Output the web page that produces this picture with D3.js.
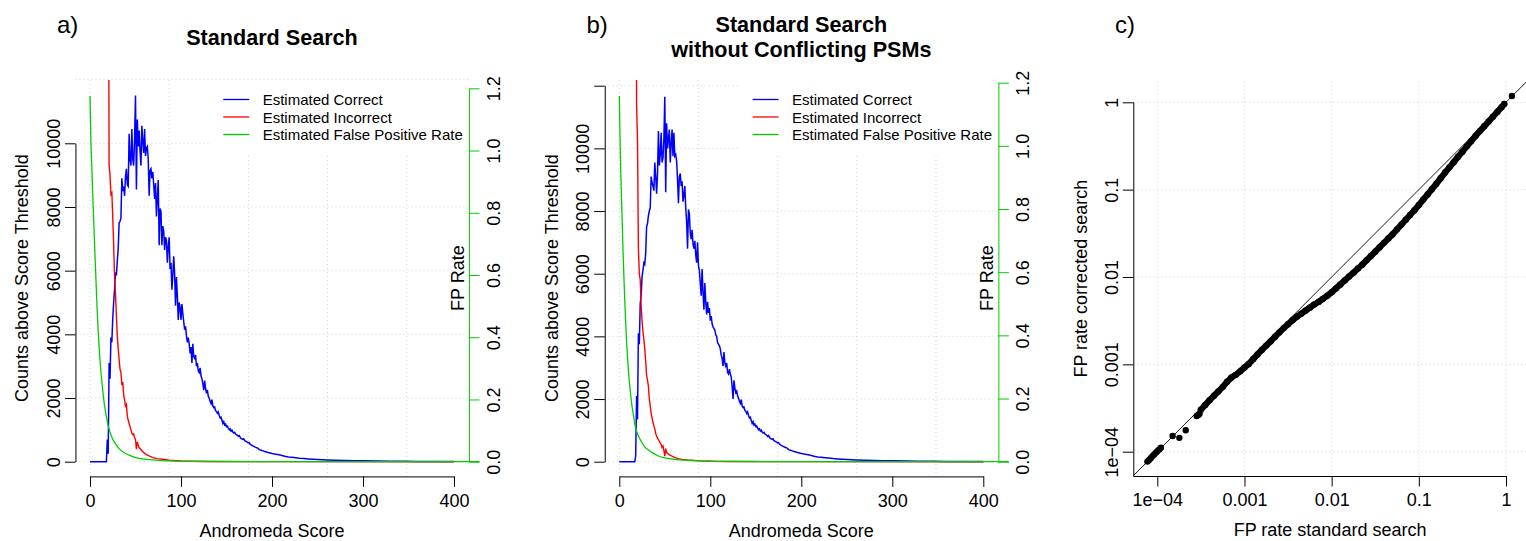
<!DOCTYPE html>
<html>
<head>
<meta charset="utf-8">
<script src="https://cdnjs.cloudflare.com/ajax/libs/d3/7.8.5/d3.min.js"></script>
<style>
  body { margin: 0; background: #fff; }
</style>
</head>
<body>
<div id="chart"></div>
<script>
/* global d3 */

// Panel a / b : [score, count]
const blueA = [[0,0],[17,0],[18,0],[19,700],[20,250],[21,3100],[22,2600],[23,3900],[24,3750],[25,4500],[26,5000],[27,5400],[28,5950],[29,5850],[30,6300],[31,6700],[32,7500],[33,7550],[34,7650],[35,8900],[36,8500],[37,8650],[38,8350],[39,8950],[40,9200],[41,8700],[42,8650],[43,10300],[44,9500],[45,9300],[46,10450],[47,9500],[48,9300],[49,10150],[50,11500],[51,8550],[52,10750],[53,9900],[54,10400],[55,9750],[56,9300],[57,10550],[58,10050],[59,9700],[60,10450],[61,9600],[62,9850],[63,9900],[64,9500],[65,8350],[66,9150],[67,9200],[68,8900],[69,9100],[70,8700],[71,8250],[72,8750],[73,7700],[74,8300],[75,8850],[76,6800],[77,7950],[78,7850],[79,6800],[80,7400],[81,7250],[82,6650],[83,7050],[84,6950],[85,6250],[86,6750],[87,7050],[88,6050],[89,6250],[90,5400],[91,5850],[92,6450],[93,5900],[94,4900],[95,5800],[96,5200],[97,4450],[98,5000],[99,4850],[100,4450],[101,4950],[102,4650],[103,4400],[104,4150],[105,4250],[106,3950],[107,3750],[108,3900],[109,3700],[110,3400],[111,3600],[112,3100],[113,3700],[114,3300],[115,3250],[116,3350],[117,3000],[118,3100],[119,2850],[120,2800],[121,2950],[122,2700],[123,2600],[124,2450],[125,2250],[126,2550],[127,2300],[128,2150],[129,2250],[130,2050],[131,2000],[132,1900],[133,1830],[134,1950],[135,1750],[136,1700],[137,1720],[138,1600],[139,1580],[140,1520],[141,1560],[142,1450],[143,1380],[144,1400],[145,1300],[146,1200],[147,1260],[148,1150],[149,1180],[150,1100],[151,1120],[152,1050],[153,1000],[154,1030],[155,960],[156,990],[157,930],[158,900],[159,920],[160,870],[162,830],[163,800],[164,820],[165,770],[166,730],[168,700],[169,720],[170,660],[172,630],[174,590],[175,600],[176,550],[178,510],[180,480],[182,450],[184,430],[186,380],[188,360],[190,340],[192,320],[195,295],[198,275],[200,260],[203,240],[206,225],[210,200],[214,170],[218,150],[222,140],[226,125],[230,112],[235,100],[240,88],[245,78],[250,68],[260,54],[270,45],[280,38],[290,32],[300,27],[315,20],[330,15],[345,11],[360,8],[380,5],[400,3]]

const redA = [[20,20000],[21,9300],[22,9000],[23,8400],[24,8450],[25,7700],[26,6800],[27,5800],[28,5300],[29,4600],[30,3950],[31,3550],[32,3200],[33,2900],[34,2800],[35,2400],[36,2500],[37,2100],[38,1950],[39,1750],[40,1800],[41,1430],[42,1300],[43,1200],[44,1100],[45,1000],[46,900],[47,850],[48,870],[49,750],[50,700],[51,390],[52,620],[53,520],[54,440],[55,420],[56,380],[57,340],[58,320],[60,260],[62,220],[65,180],[69,130],[74,95],[80,75],[87,45],[95,30],[100,20],[110,12],[130,6],[160,3],[200,1],[400,0]]

// [score, FP rate]
const greenA = [[0,1.175],[1,1.03],[2,0.945],[3,0.86],[5,0.70],[7,0.55],[8,0.48],[10,0.37],[12,0.29],[14,0.23],[16,0.18],[18,0.145],[20,0.115],[22,0.095],[25,0.072],[29,0.054],[32,0.042],[38,0.028],[43,0.021],[50,0.013],[60,0.008],[75,0.0045],[100,0.002],[150,0.0006],[200,0.0002],[428,0]]

const blueB = [[0,0],[17,0],[18,180],[19,2100],[20,1350],[21,4100],[22,3750],[23,5050],[24,5300],[25,5900],[26,6100],[27,6350],[28,6300],[29,6650],[30,7500],[31,7600],[32,7850],[33,8000],[34,8100],[35,9100],[36,8900],[37,8800],[38,8650],[39,9550],[40,9100],[41,8550],[42,9200],[43,10550],[44,9450],[45,9800],[46,10500],[47,9550],[48,9700],[49,10300],[50,11650],[51,8600],[52,10800],[53,10000],[54,10300],[55,10600],[56,9550],[57,10150],[58,10600],[59,9750],[60,10500],[61,9750],[62,9800],[63,9600],[64,9000],[65,8250],[66,9100],[67,9200],[68,8800],[69,8950],[70,8300],[71,8500],[72,8800],[73,8100],[74,7650],[75,6800],[76,8050],[77,7900],[78,7300],[79,7100],[80,7400],[81,6950],[82,6800],[83,7050],[84,6600],[85,6350],[86,7000],[87,6250],[88,6100],[89,5700],[90,5300],[91,6150],[92,5400],[93,4850],[94,5700],[95,5100],[96,4700],[97,5100],[98,4750],[99,4900],[100,4500],[101,4650],[102,4400],[103,4300],[104,4250],[105,4200],[106,4050],[107,4000],[108,3800],[109,3750],[110,3700],[111,3600],[112,3400],[113,3300],[114,3050],[115,3500],[116,3150],[117,3050],[118,3150],[119,2850],[120,2800],[121,2950],[122,2800],[123,2700],[124,2400],[125,2000],[126,2600],[127,2350],[128,2200],[129,2250],[130,2100],[131,2030],[132,1930],[133,1860],[134,1980],[135,1780],[136,1730],[137,1750],[138,1630],[139,1610],[140,1540],[141,1590],[142,1470],[143,1400],[144,1420],[145,1320],[146,1220],[147,1280],[148,1170],[149,1200],[150,1120],[151,1140],[152,1070],[153,1020],[154,1050],[155,975],[156,1010],[157,945],[158,915],[159,935],[160,885],[162,845],[163,810],[164,835],[165,780],[166,740],[168,710],[169,730],[170,670],[172,640],[174,600],[175,610],[176,560],[178,520],[180,490],[182,460],[184,440],[186,385],[188,365],[190,345],[192,325],[195,300],[198,280],[200,265],[203,245],[206,230],[210,205],[214,175],[218,150],[222,140],[226,128],[230,115],[235,100],[240,90],[245,80],[250,70],[260,56],[270,46],[280,39],[290,32],[300,27],[315,20],[330,15],[345,11],[360,8],[380,5],[400,3]]

const redB = [[18,20000],[19,11400],[20,10250],[21,6800],[22,6000],[23,5800],[24,5000],[25,4500],[26,4150],[27,3900],[28,3600],[29,3200],[30,2750],[31,2600],[32,2400],[33,2000],[34,1780],[35,1550],[36,1400],[37,1250],[38,1150],[39,1050],[40,900],[41,820],[42,750],[43,700],[44,650],[45,600],[46,550],[47,450],[48,500],[49,350],[50,180],[51,420],[52,300],[54,240],[56,200],[58,180],[61,130],[65,100],[69,75],[75,55],[80,45],[88,25],[100,12],[120,6],[160,2],[200,1],[400,0]]

const greenB = [[0,1.158],[1,0.99],[2,0.88],[3,0.78],[4,0.68],[5,0.59],[6,0.51],[8,0.38],[10,0.29],[12,0.225],[14,0.175],[16,0.14],[17,0.12],[19,0.097],[21,0.081],[25,0.060],[28,0.047],[32,0.037],[37,0.027],[43,0.018],[50,0.012],[61,0.0076],[76,0.0045],[100,0.002],[150,0.0006],[200,0.0002],[428,0]]

const scoreTicks = [0, 100, 200, 300, 400]
const scoreGrid = [0, 87, 174, 261, 348]
const countTicksA = [0, 2000, 4000, 6000, 8000, 10000]
const countTicksB = [0, 2000, 4000, 6000, 8000, 10000, 12000]
const countGrid = [0, 2000, 4000, 6000, 8000, 10000, 12000]
const fpTicks = [0, 0.2, 0.4, 0.6, 0.8, 1.0, 1.2]
const legendLabels = ['Estimated Correct', 'Estimated Incorrect', 'Estimated False Positive Rate']

// Panel c : FP rate standard search vs corrected search
const fpStdSparse = [7.7e-5, 8.0e-5, 8.4e-5, 8.8e-5, 9.2e-5, 9.6e-5, 1.0e-4, 1.05e-4, 1.1e-4, 1.5e-4, 1.79e-4, 2.12e-4, 2.83e-4, 2.95e-4, 3.05e-4, 1.17]
const fpCorrSparse = [7.7e-5, 8.0e-5, 8.4e-5, 8.9e-5, 9.3e-5, 9.7e-5, 1.01e-4, 1.06e-4, 1.11e-4, 1.51e-4, 1.44e-4, 1.76e-4, 2.56e-4, 2.63e-4, 2.72e-4, 1.18]
const fpStdBand = [3.16e-4, 3.55e-4, 3.98e-4, 4.47e-4, 5.01e-4, 5.62e-4, 6.31e-4, 7.08e-4, 7.94e-4, 8.91e-4,
  1.0e-3, 1.12e-3, 1.26e-3, 1.41e-3, 1.58e-3, 1.78e-3, 2.0e-3, 2.24e-3, 2.51e-3, 2.82e-3, 3.16e-3, 3.55e-3, 3.98e-3, 4.47e-3, 5.01e-3, 5.62e-3, 6.31e-3, 7.08e-3, 7.94e-3, 8.91e-3,
  0.01, 0.0112, 0.0126, 0.0141, 0.0158, 0.0178, 0.02, 0.0224, 0.0251, 0.0282, 0.0316, 0.0355, 0.0398, 0.0447, 0.0501, 0.0562, 0.0631, 0.0708, 0.0794, 0.0891,
  0.1, 0.112, 0.126, 0.141, 0.158, 0.178, 0.2, 0.224, 0.251, 0.282, 0.316, 0.355, 0.398, 0.447, 0.501, 0.562, 0.631, 0.708, 0.794, 0.891, 0.955]
const fpCorrBand = [3.02e-4, 3.43e-4, 3.89e-4, 4.37e-4, 4.90e-4, 5.49e-4, 6.31e-4, 7.08e-4, 7.58e-4, 8.32e-4,
  9.23e-4, 1.01e-3, 1.15e-3, 1.30e-3, 1.46e-3, 1.64e-3, 1.84e-3, 2.07e-3, 2.32e-3, 2.60e-3, 2.88e-3, 3.20e-3, 3.51e-3, 3.80e-3, 4.12e-3, 4.46e-3, 4.84e-3, 5.19e-3, 5.62e-3, 6.10e-3,
  6.68e-3, 7.40e-3, 8.23e-3, 9.11e-3, 0.0101, 0.0112, 0.0125, 0.0138, 0.0155, 0.0174, 0.0195, 0.0219, 0.0246, 0.0276, 0.0309, 0.0351, 0.0398, 0.0452, 0.0513, 0.0582,
  0.0668, 0.0766, 0.0882, 0.101, 0.116, 0.135, 0.157, 0.180, 0.206, 0.238, 0.272, 0.313, 0.359, 0.412, 0.468, 0.531, 0.602, 0.684, 0.776, 0.881, 0.955]
const logTicks = [1e-4, 1e-3, 1e-2, 0.1, 1]
const logLabels = ['1e\u221204', '0.001', '0.01', '0.1', '1']

// Our canvas
const width = 1526,
  height = 541,
  font = "'Liberation Sans', Arial, Helvetica, sans-serif",
  green = '#00cc00',
  gridColor = '#d3d3d3'

const svg = d3.select('#chart')
  .append('svg')
  .attr('width', width)
  .attr('height', height)
  .style('font-family', font)

const styleAxis = (g, color) => {
  g.attr('font-size', 18).attr('font-family', font).attr('color', color || '#000')
  g.selectAll('.tick text').attr('fill', '#000')
}

const rotateLabels = (g, base) => {
  g.selectAll('.tick text')
    .attr('transform', 'rotate(-90)')
    .attr('x', 0)
    .attr('y', base)
    .attr('dy', null)
    .attr('text-anchor', 'middle')
}

// histogram panels (a, b)
let drawHist = (p) => {
  const x = d3.scaleLinear().domain([0, 400]).range([p.x0, p.x0 + 364])
  const yCount = d3.scaleLinear().domain([0, p.countTicks[p.countTicks.length - 1]]).range([461.7, p.countTopY])
  const yFp = d3.scaleLinear().domain([0, 1.2]).range([461.7, p.fpTopY])
  const left = x(-16), right = x(416), top = 80, bottom = 476.4

  const g = svg.append('g')

  svg.append('clipPath').attr('id', p.id + 'clip')
    .append('rect')
    .attr('x', left).attr('y', top)
    .attr('width', right - left + 20).attr('height', bottom - top)

  // grid
  g.selectAll('.vgrid').data(scoreGrid).enter().append('line')
    .attr('x1', d => x(d)).attr('x2', d => x(d))
    .attr('y1', top).attr('y2', bottom)
    .attr('stroke', gridColor).attr('stroke-dasharray', '1,3')
  g.selectAll('.hgrid').data(countGrid).enter().append('line')
    .attr('x1', left).attr('x2', right)
    .attr('y1', d => yCount(d)).attr('y2', d => yCount(d))
    .attr('stroke', gridColor).attr('stroke-dasharray', '1,3')

  // curves
  const countLine = d3.line().x(d => x(d[0])).y(d => yCount(d[1]))
  const fpLine = d3.line().x(d => x(d[0])).y(d => yFp(d[1])).curve(d3.curveMonotoneX)
  const curves = g.append('g').attr('clip-path', 'url(#' + p.id + 'clip)')
  curves.append('path').datum(p.blue).attr('d', countLine)
    .attr('fill', 'none').attr('stroke', '#0000ff').attr('stroke-width', 1.5)
  curves.append('path').datum(p.red).attr('d', countLine)
    .attr('fill', 'none').attr('stroke', '#ff0000').attr('stroke-width', 1.4)
  curves.append('path').datum(p.green).attr('d', fpLine)
    .attr('fill', 'none').attr('stroke', green).attr('stroke-width', 1.3)

  // axes
  const xAxis = g.append('g')
    .attr('transform', `translate(0,${bottom})`)
    .call(d3.axisBottom(x).tickValues(scoreTicks).tickSize(10.5).tickSizeOuter(0))
  styleAxis(xAxis)
  xAxis.selectAll('.tick text').attr('y', 30.3).attr('dy', null)

  const yAxis = g.append('g')
    .attr('transform', `translate(${left},0)`)
    .call(d3.axisLeft(yCount).tickValues(p.countTicks).tickSize(10.5).tickSizeOuter(0)
      .tickFormat(d => d > 10000 ? '' : d3.format('d')(d)))
  styleAxis(yAxis)
  rotateLabels(yAxis, -15.5)

  const fpAxis = g.append('g')
    .attr('transform', `translate(${right + 0.5},0)`)
    .call(d3.axisRight(yFp).tickValues(fpTicks).tickSize(10.5).tickSizeOuter(0).tickFormat(d3.format('.1f')))
  styleAxis(fpAxis, green)
  rotateLabels(fpAxis, 30.7)

  // labels
  g.append('text')
    .attr('x', (left + right) / 2).attr('y', 536.7)
    .attr('text-anchor', 'middle').attr('font-size', 18)
    .text('Andromeda Score')
  g.append('text')
    .attr('transform', `translate(${left - 47},${(top + bottom) / 2}) rotate(-90)`)
    .attr('text-anchor', 'middle').attr('font-size', 18)
    .text('Counts above Score Threshold')
  g.append('text')
    .attr('transform', `translate(${right - 4.5},${(top + bottom) / 2}) rotate(-90)`)
    .attr('text-anchor', 'middle').attr('font-size', 18)
    .text('FP Rate')
  p.title.forEach((t, i) => {
    g.append('text')
      .attr('x', (left + right) / 2).attr('y', p.titleY + i * 25)
      .attr('text-anchor', 'middle').attr('font-size', 21.6).attr('font-weight', 'bold')
      .text(t)
  })
  g.append('text')
    .attr('x', p.letterX).attr('y', 33.3)
    .attr('font-size', 24)
    .text(p.letter)

  // legend
  const lx = right - 258
  const legend = g.append('g').attr('transform', `translate(${lx},${top})`)
  legend.append('rect').attr('width', 258).attr('height', 74).attr('fill', '#fff')
  const colors = ['#0000ff', '#ff0000', green]
  legendLabels.forEach((t, i) => {
    const by = 25 + i * 17.5
    legend.append('line')
      .attr('x1', 12.7).attr('x2', 38.7)
      .attr('y1', by - 5.5).attr('y2', by - 5.5)
      .attr('stroke', colors[i]).attr('stroke-width', 1.3)
    legend.append('text')
      .attr('x', 52.1).attr('y', by)
      .attr('font-size', 15)
      .text(t)
  })
}

drawHist({
  id: 'a', x0: 90, countTicks: countTicksA, countTopY: 143.3, fpTopY: 88.3,
  blue: blueA, red: redA, green: greenA,
  title: ['Standard Search'], titleY: 45, letter: 'a)', letterX: 57
})
drawHist({
  id: 'b', x0: 619.3, countTicks: countTicksB, countTopY: 85.7, fpTopY: 82.7,
  blue: blueB, red: redB, green: greenB,
  title: ['Standard Search', 'without Conflicting PSMs'], titleY: 32.3, letter: 'b)', letterX: 586.5
})

// panel c
let drawScatter = () => {
  const x = d3.scaleLog().domain([1e-4, 1]).range([1157.3, 1506])
  const y = d3.scaleLog().domain([1e-4, 1]).range([451.7, 102.3])
  const left = 1133.3, right = 1526.8, top = 81.4, bottom = 476

  const g = svg.append('g')
  svg.append('clipPath').attr('id', 'cclip')
    .append('rect')
    .attr('x', left).attr('y', top)
    .attr('width', right - left).attr('height', bottom - top)

  g.selectAll('.vgrid').data(logTicks).enter().append('line')
    .attr('x1', d => x(d)).attr('x2', d => x(d))
    .attr('y1', top).attr('y2', bottom)
    .attr('stroke', gridColor).attr('stroke-dasharray', '1,3')
  g.selectAll('.hgrid').data(logTicks).enter().append('line')
    .attr('x1', left).attr('x2', right)
    .attr('y1', d => y(d)).attr('y2', d => y(d))
    .attr('stroke', gridColor).attr('stroke-dasharray', '1,3')

  const inner = g.append('g').attr('clip-path', 'url(#cclip)')
  // identity line
  const lo = x.invert(left), hi = x.invert(right + 5)
  inner.append('line')
    .attr('x1', x(lo)).attr('y1', y(lo))
    .attr('x2', x(hi)).attr('y2', y(hi))
    .attr('stroke', '#000').attr('stroke-width', 0.9)

  const band = fpStdBand.map((d, i) => [d, fpCorrBand[i]])
  const sparse = fpStdSparse.map((d, i) => [d, fpCorrSparse[i]])
  inner.append('path').datum(band)
    .attr('d', d3.line().x(d => x(d[0])).y(d => y(d[1])))
    .attr('fill', 'none').attr('stroke', '#000').attr('stroke-width', 6.2)
    .attr('stroke-linecap', 'round').attr('stroke-linejoin', 'round')
  inner.selectAll('circle').data(band.concat(sparse)).enter().append('circle')
    .attr('cx', d => x(d[0])).attr('cy', d => y(d[1]))
    .attr('r', 3.2).attr('fill', '#000')

  const xAxis = g.append('g')
    .attr('transform', `translate(0,${bottom})`)
    .call(d3.axisBottom(x).tickValues(logTicks).tickSize(10.5).tickSizeOuter(0)
      .tickFormat((d, i) => logLabels[i]))
  styleAxis(xAxis)
  xAxis.select('.domain').remove()
  xAxis.selectAll('.tick text').attr('y', 30.3).attr('dy', null)

  const yAxis = g.append('g')
    .attr('transform', `translate(${left},0)`)
    .call(d3.axisLeft(y).tickValues(logTicks).tickSize(10.5).tickSizeOuter(0)
      .tickFormat((d, i) => logLabels[i]))
  styleAxis(yAxis)
  yAxis.select('.domain').remove()
  rotateLabels(yAxis, -15.5)

  // axis lines run from the corner to the last tick
  g.append('line')
    .attr('x1', left + 0.5).attr('x2', left + 0.5)
    .attr('y1', bottom).attr('y2', y(1))
    .attr('stroke', '#000')
  g.append('line')
    .attr('x1', left).attr('x2', x(1))
    .attr('y1', bottom + 0.5).attr('y2', bottom + 0.5)
    .attr('stroke', '#000')

  g.append('text')
    .attr('x', (left + right) / 2).attr('y', 536)
    .attr('text-anchor', 'middle').attr('font-size', 18)
    .text('FP rate standard search')
  g.append('text')
    .attr('transform', `translate(${left - 46.5},${(top + bottom) / 2}) rotate(-90)`)
    .attr('text-anchor', 'middle').attr('font-size', 18)
    .text('FP rate corrected search')
  g.append('text')
    .attr('x', 1115).attr('y', 33.3)
    .attr('font-size', 24)
    .text('c)')
}

drawScatter()
</script>
</body>
</html>
